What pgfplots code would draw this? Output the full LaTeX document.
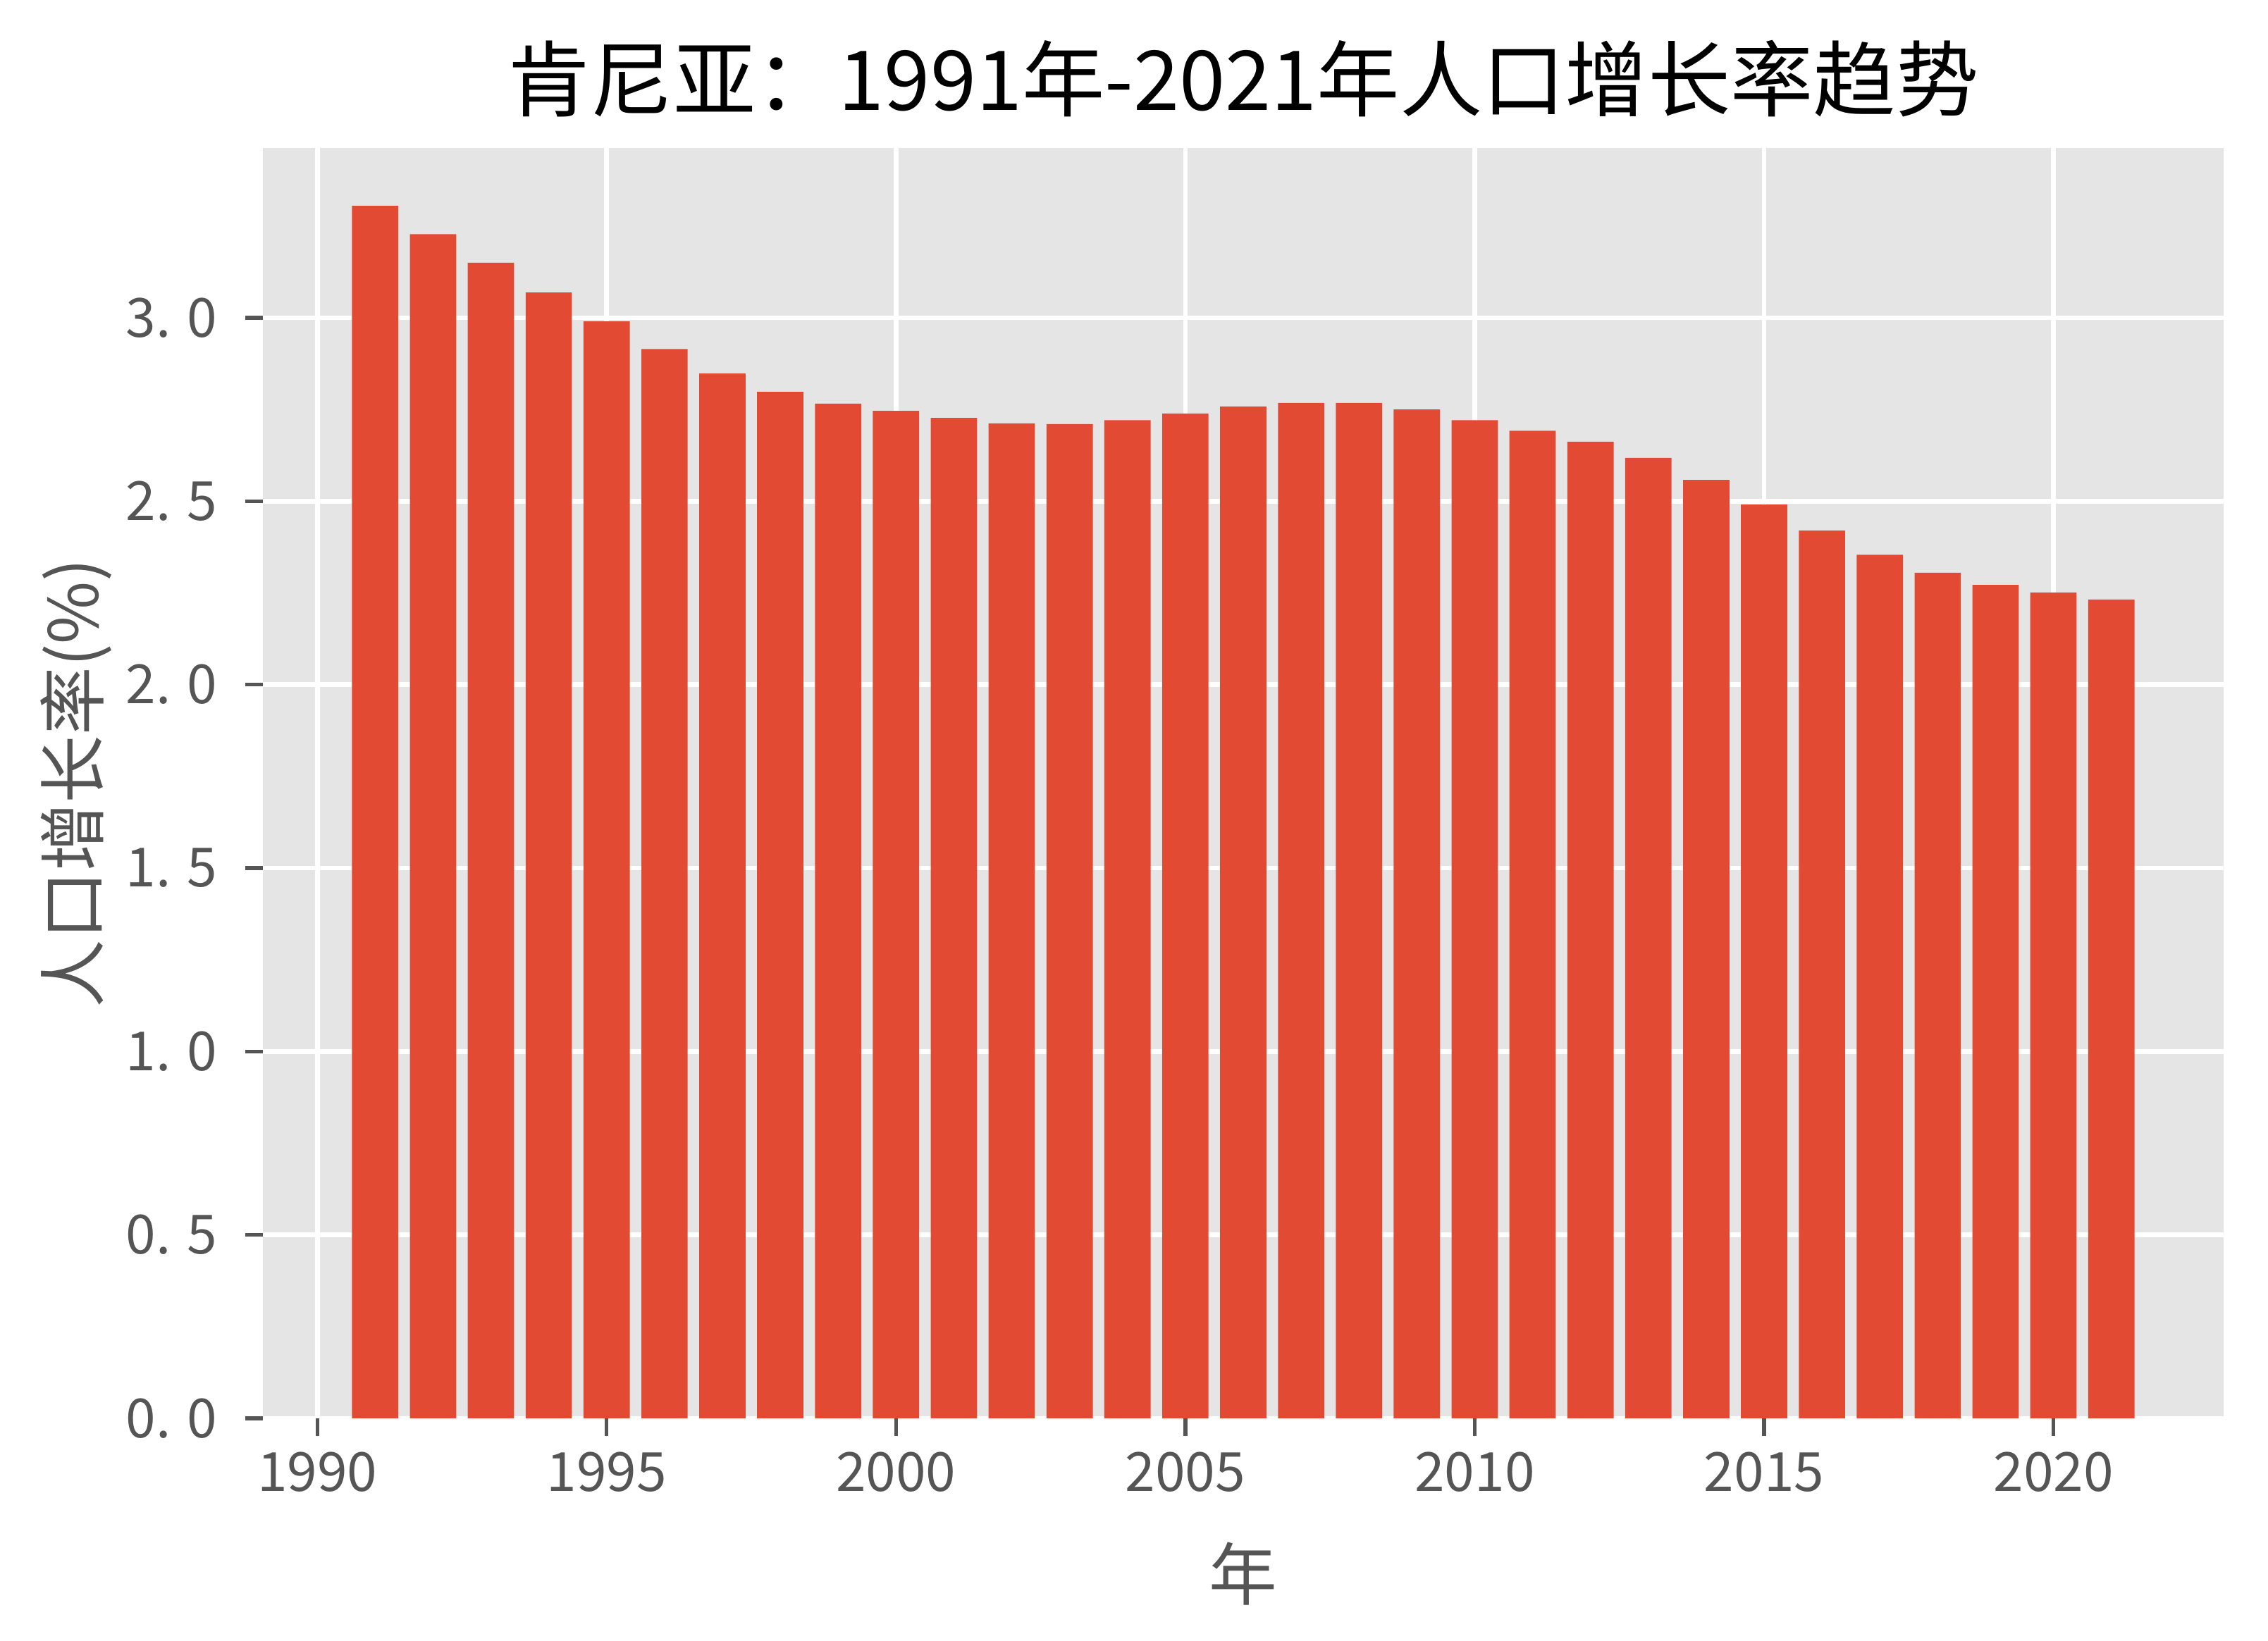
\documentclass[border=0pt]{standalone}
\usepackage{fontspec}
\setmainfont{Noto Sans CJK SC}
\usepackage{pgfplots}
\usepackage{pgfplotstable}
\pgfplotsset{compat=1.18}

\definecolor{barred}{HTML}{E24A33}
\definecolor{panel}{HTML}{E5E5E5}
\definecolor{inkgray}{HTML}{555555}

% Kenya population growth rate (%)
\pgfplotstableread{
year rate
1991 3.305
1992 3.228
1993 3.150
1994 3.069
1995 2.990
1996 2.915
1997 2.848
1998 2.798
1999 2.766
2000 2.746
2001 2.727
2002 2.712
2003 2.710
2004 2.721
2005 2.739
2006 2.758
2007 2.768
2008 2.768
2009 2.750
2010 2.721
2011 2.692
2012 2.662
2013 2.618
2014 2.558
2015 2.491
2016 2.420
2017 2.354
2018 2.305
2019 2.272
2020 2.251
2021 2.232
}\growth

\begin{document}
\begin{tikzpicture}
\useasboundingbox (-55.95pt,-47.4pt) rectangle (426.75pt,301.95pt);
\begin{axis}[
    at={(0pt,0pt)}, anchor=south west,
    scale only axis, width=417.3pt, height=270.45pt,
    xmin=1989.06, xmax=2022.94, ymin=0, ymax=3.463,
    axis background/.style={fill=panel},
    axis line style={draw=none},
    grid=major, grid style={white, line width=1pt},
    tick align=outside, xtick pos=bottom, ytick pos=left,
    major tick length=3.7pt,
    tick style={inkgray, line width=0.8pt},
    xtick={1990,1995,2000,2005,2010,2015,2020},
    xticklabels={1990,1995,2000,2005,2010,2015,2020},
    ytick={0,0.5,1,1.5,2,2.5,3},
    yticklabels={0.\hspace{0.3em}0,0.\hspace{0.3em}5,1.\hspace{0.3em}0,1.\hspace{0.3em}5,2.\hspace{0.3em}0,2.\hspace{0.3em}5,3.\hspace{0.3em}0},
    ticklabel style={font=\fontsize{11.5}{13}\selectfont, text=inkgray},
    yticklabel style={xshift=-2.5pt},
    title={肯尼亚：1991年-2021年人口增长率趋势},
    title style={font=\fontsize{17.6}{21}\selectfont, at={(axis description cs:0.5,1.0015)}, anchor=south, inner sep=0pt},
    xlabel={年}, ylabel={人口增长率(\%)},
    label style={font=\fontsize{14.5}{17}\selectfont, text=inkgray},
    xlabel style={at={(axis description cs:0.5,-0.1226)}, anchor=center},
    ylabel style={at={(axis description cs:-0.0954,0.5)}, anchor=center},
]
\addplot[ybar, bar width=0.8, fill=barred, draw=none] table[x=year, y=rate]{\growth};
\end{axis}
\end{tikzpicture}
\end{document}
